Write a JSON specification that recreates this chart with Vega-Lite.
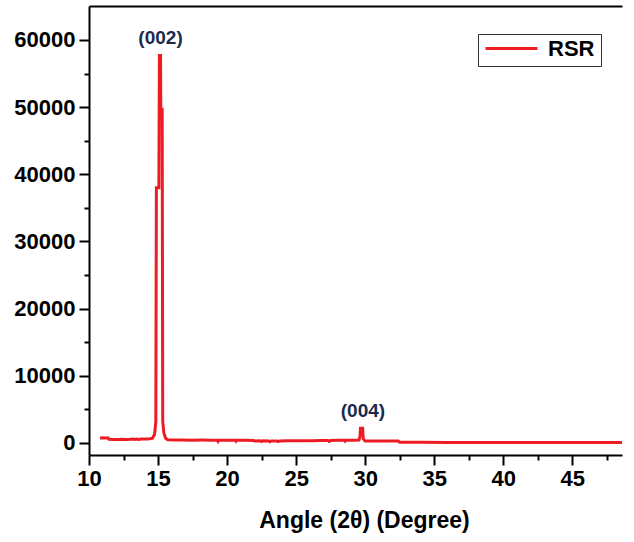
{
  "$schema": "https://vega.github.io/schema/vega-lite/v6.json",
  "autosize": "none",
  "width": 533,
  "height": 449,
  "padding": {"left": 89, "top": 6, "right": 12, "bottom": 87},
  "background": "white",
  "config": {
    "view": {"stroke": null},
    "axis": {
      "domainColor": "black",
      "domainWidth": 2,
      "tickColor": "black",
      "tickWidth": 2,
      "tickSize": 10,
      "labelFont": "Liberation Sans",
      "labelFontWeight": "bold",
      "labelFontSize": 22,
      "labelColor": "black",
      "titleFont": "Liberation Sans",
      "titleFontWeight": "bold",
      "titleFontSize": 23,
      "titleColor": "black",
      "grid": false
    }
  },
  "datasets": {
    "xrd": [
      {"t": 10.8, "i": 750}, {"t": 11.0, "i": 760}, {"t": 11.2, "i": 740}, {"t": 11.4, "i": 730},
      {"t": 11.45, "i": 540}, {"t": 11.8, "i": 530}, {"t": 12.1, "i": 510}, {"t": 12.4, "i": 540},
      {"t": 12.7, "i": 520}, {"t": 13.0, "i": 540}, {"t": 13.2, "i": 580}, {"t": 13.3, "i": 520},
      {"t": 13.45, "i": 600}, {"t": 13.6, "i": 530}, {"t": 13.8, "i": 580}, {"t": 14.0, "i": 610},
      {"t": 14.2, "i": 590}, {"t": 14.4, "i": 640}, {"t": 14.6, "i": 720}, {"t": 14.75, "i": 1300},
      {"t": 14.84, "i": 3200}, {"t": 14.88, "i": 38000}, {"t": 15.06, "i": 38000}, {"t": 15.1, "i": 57700},
      {"t": 15.18, "i": 57700}, {"t": 15.2, "i": 49700}, {"t": 15.3, "i": 49700}, {"t": 15.34, "i": 3200},
      {"t": 15.42, "i": 1500}, {"t": 15.55, "i": 700}, {"t": 15.7, "i": 480}, {"t": 16.2, "i": 440},
      {"t": 16.8, "i": 430}, {"t": 17.5, "i": 420}, {"t": 18.2, "i": 430}, {"t": 18.9, "i": 410},
      {"t": 19.3, "i": 420}, {"t": 19.35, "i": 250}, {"t": 19.4, "i": 420}, {"t": 20.0, "i": 400},
      {"t": 20.6, "i": 410}, {"t": 20.65, "i": 260}, {"t": 20.7, "i": 400}, {"t": 21.3, "i": 390},
      {"t": 21.9, "i": 380}, {"t": 22.0, "i": 300}, {"t": 22.4, "i": 320}, {"t": 22.5, "i": 200},
      {"t": 22.6, "i": 320}, {"t": 23.0, "i": 300}, {"t": 23.1, "i": 190}, {"t": 23.2, "i": 310},
      {"t": 23.6, "i": 300}, {"t": 23.7, "i": 200}, {"t": 23.8, "i": 310}, {"t": 24.4, "i": 320},
      {"t": 25.0, "i": 330}, {"t": 25.6, "i": 340}, {"t": 26.2, "i": 350}, {"t": 26.8, "i": 360},
      {"t": 27.3, "i": 370}, {"t": 27.4, "i": 240}, {"t": 27.5, "i": 380}, {"t": 28.0, "i": 400},
      {"t": 28.5, "i": 410}, {"t": 28.55, "i": 280}, {"t": 28.6, "i": 410}, {"t": 29.2, "i": 420},
      {"t": 29.55, "i": 450}, {"t": 29.62, "i": 900}, {"t": 29.66, "i": 2200}, {"t": 29.82, "i": 2200},
      {"t": 29.86, "i": 600}, {"t": 30.0, "i": 300}, {"t": 30.5, "i": 300}, {"t": 31.0, "i": 290},
      {"t": 31.5, "i": 300}, {"t": 32.0, "i": 300}, {"t": 32.4, "i": 290}, {"t": 32.5, "i": 100},
      {"t": 34.0, "i": 90}, {"t": 36.0, "i": 80}, {"t": 38.0, "i": 80}, {"t": 40.0, "i": 70},
      {"t": 42.0, "i": 70}, {"t": 44.0, "i": 60}, {"t": 46.0, "i": 60}, {"t": 48.6, "i": 60}
    ],
    "peaks": [
      {"plane": "(002)", "t": 15.18, "i": 57700},
      {"plane": "(004)", "t": 29.84, "i": 2200}
    ]
  },
  "resolve": {"axis": {"x": "independent", "y": "independent"}},
  "layer": [
    {
      "data": {"name": "xrd"},
      "transform": [{"calculate": "'RSR'", "as": "sample"}],
      "mark": {"type": "line", "strokeWidth": 3, "clip": true},
      "encoding": {
        "x": {
          "field": "t",
          "type": "quantitative",
          "scale": {"domain": [10, 48.6], "nice": false, "zero": false},
          "axis": {
            "orient": "bottom",
            "title": "Angle (2θ) (Degree)",
            "titlePadding": 20,
            "titleX": 275,
            "values": [10, 15, 20, 25, 30, 35, 40, 45],
            "labelPadding": 3,
            "labelFlush": false
          }
        },
        "y": {
          "field": "i",
          "type": "quantitative",
          "scale": {"domain": [-1790, 65060], "nice": false, "zero": false},
          "axis": {
            "orient": "left",
            "title": null,
            "values": [0, 10000, 20000, 30000, 40000, 50000, 60000],
            "format": "d",
            "labelPadding": 4
          }
        },
        "color": {
          "field": "sample",
          "type": "nominal",
          "scale": {"domain": ["RSR"], "range": ["#ed1c24"]},
          "legend": {
            "title": null,
            "orient": "none",
            "legendX": 389,
            "legendY": 28,
            "strokeColor": "#333333",
            "fillColor": "white",
            "padding": 6,
            "clipHeight": 17,
            "symbolType": "stroke",
            "symbolSize": 2704,
            "symbolStrokeWidth": 3,
            "labelOffset": 9,
            "labelFont": "Liberation Sans",
            "labelFontWeight": "bold",
            "labelFontSize": 22,
            "labelColor": "black"
          }
        }
      }
    },
    {
      "data": {"name": "xrd"},
      "mark": {"type": "point", "opacity": 0},
      "encoding": {
        "x": {
          "field": "t",
          "type": "quantitative",
          "axis": {
            "orient": "bottom",
            "title": null,
            "values": [12.5, 17.5, 22.5, 27.5, 32.5, 37.5, 42.5, 47.5],
            "labels": false,
            "domain": false,
            "tickSize": 5
          }
        },
        "y": {
          "field": "i",
          "type": "quantitative",
          "axis": {
            "orient": "left",
            "title": null,
            "values": [5000, 15000, 25000, 35000, 45000, 55000],
            "labels": false,
            "domain": false,
            "tickSize": 5
          }
        }
      }
    },
    {
      "data": {"name": "peaks"},
      "mark": {
        "type": "text",
        "dy": -17,
        "font": "Liberation Sans",
        "fontWeight": "bold",
        "fontSize": 19,
        "color": "#1b2a4e",
        "baseline": "middle",
        "align": "center"
      },
      "encoding": {
        "x": {
          "field": "t",
          "type": "quantitative",
          "axis": {"orient": "top", "title": null, "ticks": false, "labels": false, "domain": true}
        },
        "y": {"field": "i", "type": "quantitative", "axis": null},
        "text": {"field": "plane"}
      }
    }
  ]
}
